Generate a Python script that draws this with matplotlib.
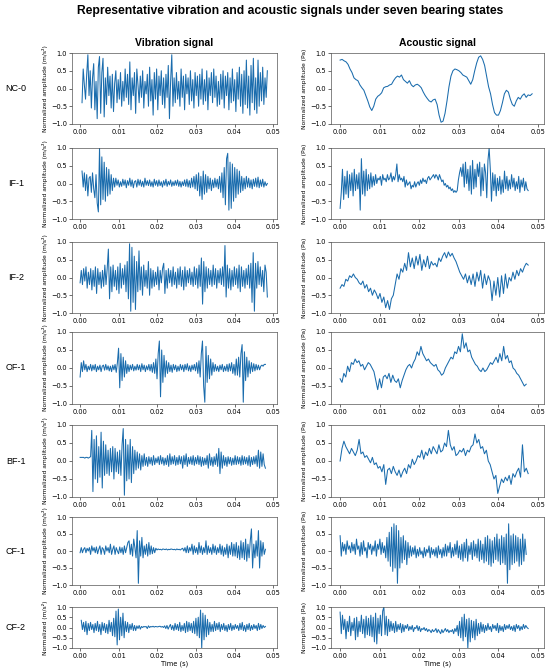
import numpy as np
import matplotlib.pyplot as plt

# bearing states (one row each)
states = ['NC-0', 'IF-1', 'IF-2', 'OF-1', 'BF-1', 'CF-1', 'CF-2']

# amplitudes, in hundredths of normalized amplitude
nc0_vib = [-40, 55, 10, -30, 40, 95, -20, 50, -55, 30, 70, -60, 20, -85, 60, 90, -70, 45, 85, -80,
           30, -45, 60, -20, 35, -55, 40, -65, 15, 50, -40, 25, -30, 45, -50, 20, -35, 55, -25, 40,
           -45, 75, -60, 30, -20, 45, -70, 55, 10, -40, 35, -25, 50, -55, 20, -15, 40, -50, 60, -35,
           25, -75, 45, -30, 55, -60, 35, -20, 50, -45, 30, -55, 40, -25, 65, -85, 20, 95, -50, 30,
           -40, 45, -30, 20, -50, 55, -25, 35, -60, 40, -15, 30, -45, 50, -35, 25, -55, 45, -20, 35,
           -50, 40, -30, 55, -45, 25, -35, 50, -60, 30, -20, 45, -40, 55, -25, 35, -50, 20, -45, 40,
           -30, 50, -55, 35, -20, 45, -60, 30, -40, 55, -35, 25, -65, 45, -30, 60, -50, 40, -70, 50,
           -45, 80, -55, 35, -75, 65, -40, 85, -60, 30, -70, 80, -50, 45, -35, 60, -45, 30, -25, 50]
nc0_ac = [80, 82, 78, 75, 68, 55, 45, 30, 25, 22, 10, 2, -5, -20, -35, -52, -62, -50, -30, -22,
          -18, -12, 2, 5, 6, 10, 12, 22, 30, 35, 32, 38, 25, 20, 15, 22, 10, 5, 10, 12,
          8, 2, -10, -20, -28, -35, -38, -32, -30, -45, -75, -95, -92, -70, -35, 5, 35, 50, 55, 53,
          50, 45, 38, 35, 32, 22, 12, 25, 50, 72, 88, 92, 82, 65, 35, 5, -15, -45, -68, -75,
          -75, -62, -40, -15, -5, -10, -30, -45, -50, -35, -25, -30, -20, -15, -25, -18, -20, -15]

if1_vib = [35, -10, 30, -20, 25, -35, 15, 20, -25, 30, -15, -40, 25, -55, -80, 100, -60, 75, -45, 60,
           -50, 45, -35, 40, -30, 25, -20, 15, -10, 15, -5, 10, -10, 5, -8, 12, -5, 10, -12, 8,
           -5, 15, -8, 10, -12, 5, 8, -10, 12, -5, 10, -8, 6, -10, 15, -5, 8, -6, 10, -8,
           5, -10, 12, -5, 8, -8, 10, -6, 5, -10, 8, -5, 12, -8, 6, -4, 10, -8, 5, -6,
           8, -5, 10, -8, 6, -10, 5, -6, 10, -8, 12, -10, 8, -12, 15, -10, 20, -15, 25, -20,
           30, -35, 20, -45, 35, -30, 25, -25, 20, -15, 15, -20, 10, -12, 15, -10, 12, -15, 20, -25,
           30, -40, 45, -60, 70, 85, -75, 60, -70, 55, -50, 45, -40, 40, -30, 35, -25, 20, -20, 15,
           -15, 20, -10, 15, -12, 10, -15, 12, -8, 15, -10, 18, -12, 10, -8, 12, -10, 5, -6, 0]
if1_ac = [-70, -25, 40, -45, 20, -30, 35, -40, 25, -20, 30, -35, 40, -20, 25, -15, 30, -75, 70, -30,
          35, -35, 40, -20, 25, -15, 30, -10, 20, -5, 25, 0, 15, 10, 20, -5, 25, 10, 15, 5,
          25, 10, 15, 30, 5, 20, 10, 25, 55, 5, 25, 10, 15, 5, 20, -10, 10, -5, 0, 5,
          -15, -5, -10, 5, -10, 0, 5, -5, 10, 0, 15, 5, 10, 0, 15, 20, 10, 15, 20, 25,
          15, 25, 20, 10, 25, 15, 5, 10, -5, 0, -10, -5, -15, -10, -20, -15, -25, -20, -25, -20,
          10, 30, 45, 20, 55, -10, 60, 0, 40, -20, 50, -30, 65, -15, 40, -10, 55, 20, 60, -35,
          45, -20, 55, 30, -40, 65, 100, 40, -50, 30, -20, 25, -35, 15, -20, 20, -30, 10, -25, 35,
          -15, 20, -20, 10, -15, 25, -10, 15, -20, 5, -15, 20, -25, 10, -10, 15, -20, 5, -15, -20]

if2_vib = [-15, 20, -20, 25, -10, 30, -30, 15, -20, 25, -35, 20, -25, 30, -45, 25, -20, 15, -30, 20,
           -25, 35, -20, 25, 80, -60, 30, -40, 35, -25, 20, -35, 30, -45, 40, -30, 25, -20, 35, -40,
           45, -60, 95, -95, 85, -70, 60, -90, 45, -40, 75, -35, 30, -50, 35, -25, 20, -30, 45, -50,
           25, -30, 20, -25, 15, -20, 30, -35, 20, -15, 25, 40, -45, 20, -30, 25, -15, 20, -25, 30,
           -20, 15, -30, 25, -20, 30, -25, 20, -35, 30, -25, 20, -15, 25, -20, 15, -25, 30, -20, 25,
           -30, 35, -25, 55, -75, 45, -40, 30, -30, 25, -20, 20, -25, 35, -20, 25, -30, 20, -15, 25,
           -20, 30, -25, 90, -55, 35, -30, 25, -35, 20, -25, 30, -20, 25, -30, 35, -40, 30, -25, 20,
           -30, 25, -20, 35, -30, 40, -70, 70, -95, 40, -30, 45, -20, 30, -25, 20, -40, 35, 15, -55]
if2_ac = [-30, -20, -25, -5, -10, 5, 0, 10, 0, -5, -15, -20, -10, -30, -20, -40, -30, -50, -35, -45,
          -60, -45, -70, -55, -85, -65, -90, -60, -50, -20, 10, -5, 25, 15, 40, 20, 70, 30, 55, 25,
          60, 35, 65, 20, 50, 30, 60, 25, 45, 35, 40, 30, 55, 45, 60, 70, 55, 72, 60, 68,
          55, 45, 30, 15, 5, -5, 10, -15, 5, -20, 10, -25, 15, -10, 20, -30, 10, -20, 5, -10,
          -65, -10, -50, 0, -55, 5, -45, 10, -30, 0, -10, 15, -5, 20, 5, 25, 15, 30, 40, 35]

of1_vib = [-25, 15, -10, 20, -5, 10, -10, 5, -5, 10, -8, 8, -5, 10, -10, 5, -5, 8, -10, 5,
           8, -6, 10, -5, 6, -8, 5, -10, 8, -5, 10, -12, 15, 55, -55, 40, -35, 30, -25, 20,
           -15, 10, -10, 8, -5, 10, -8, 5, -6, 10, -5, 8, -10, 12, -5, 8, -10, 6, -5, 10,
           -8, 10, -12, 15, -15, 25, -30, 40, 75, -80, 50, -40, 35, -25, 20, -15, 15, -10, 8, -12,
           10, -5, 8, -10, 5, -8, 10, -5, 8, -10, 10, -5, 12, -8, 6, -10, 8, -5, 10, -8,
           15, -15, 20, -25, 40, 75, -50, -95, 60, -40, 35, -30, 25, -20, 15, -10, 10, -8, 5, -10,
           8, -5, 10, -10, 5, -8, 10, -10, 12, -8, 15, -15, 10, -20, 25, -20, 30, -25, 40, 65,
           -95, 45, -35, 30, -25, 20, -15, 15, -10, 12, -8, 10, -5, 8, -5, 5, 8, 5, 10, 10]
of1_ac = [-30, -40, -15, -25, 5, -10, 15, 10, 25, 15, 20, 5, 10, -5, 5, 15, 10, 0, -10, -35,
          -60, -30, -55, -25, -20, -30, -15, -40, -20, -35, -40, -30, -55, -35, -20, -5, 5, 10, 0, 15,
          25, 45, 35, 60, 40, 30, 20, 25, 15, 10, 5, 10, -5, -10, -20, -15, 0, 10, 20, 30,
          25, 45, 40, 60, 45, 95, 55, 70, 45, 50, 30, 20, 10, 5, -5, -10, 0, -10, -5, 5,
          15, 10, 20, 30, 15, 40, 20, 60, 25, 35, 15, 20, 0, -5, -15, -20, -30, -40, -50, -45]

bf1_vib = [10, 10, 10, 10, 8, 10, 10, 8, 10, 12, 85, -85, 60, -50, 70, -60, 40, -45, 80, -75,
           55, -40, 45, -35, 30, -40, 35, -30, 40, -50, 35, -30, 25, -35, 30, -40, 45, 90, -95, 60,
           -55, 45, -50, 60, -60, 40, -35, 30, -25, 25, -20, 20, -25, 15, -15, 20, -12, 10, -15, 12,
           -8, 10, -12, 15, -10, 8, -5, 12, -10, 15, -8, 10, -12, 8, -10, 15, -15, 20, -10, 12,
           -8, 15, -12, 10, -10, 15, -8, 12, -20, 15, -10, 20, -15, 10, -8, 12, -10, 15, -12, 10,
           -8, 15, -10, 12, -15, 10, -12, 8, -10, 15, -20, 20, -12, 10, -15, 12, -10, 20, -15, 35,
           -35, 25, -20, 15, -12, 10, -15, 12, -8, 10, -12, 8, -10, 15, -10, 12, -8, 10, -12, 15,
           -10, 12, -8, 10, -12, 15, -15, 10, -10, 12, -8, 15, -15, 30, -20, 25, -15, 20, -10, -20]
bf1_ac = [0, 35, 55, 40, 30, 20, 35, 25, 15, 30, 60, 20, 25, 10, 15, 5, -5, 10, -10, -5,
          -20, -15, -30, -10, -65, -25, -20, -35, -15, -30, -40, -25, -45, -30, -20, -35, -10, -20, 5, -10,
          0, 15, 10, 30, 5, 25, 15, 35, 20, 40, 30, 20, 45, 25, 30, 50, 40, 85, 45, 30,
          40, 15, 20, 30, 25, 35, 15, 30, 25, 40, 45, 75, 50, 60, 35, 40, 20, 30, 0, -10,
          -30, -50, -40, -90, -70, -50, -60, -45, -55, -40, -65, -35, -45, -30, -20, -45, 45, -30, -20, -35]

cf1_vib = [-5, 10, -5, 5, 10, -5, 8, 0, 10, -10, 15, 0, 10, -5, 12, -8, 5, 15, -10, 10,
           5, -10, 15, 0, 10, -5, 20, -10, 5, 15, -10, 10, 0, -8, 12, -5, 10, -10, 15, -5,
           10, 25, 30, -10, 20, -15, 35, 10, -20, 60, -95, 30, -15, 40, -20, 15, -10, 20, -15, 25,
           -10, 15, -8, 10, -5, 8, 3, 6, 4, 5, 3, 6, 5, 4, 6, 3, 5, 4, 6, 5,
           4, 5, 3, 6, 4, 5, 3, 6, 8, 0, 10, -5, 15, -5, 10, 0, 20, -10, 15, -5,
           10, -10, 25, -5, 15, -10, 10, -5, 30, -10, 15, -5, 10, -10, 20, -5, 15, -10, 10, -5,
           20, -10, 15, -15, 10, -10, 20, -20, 15, -10, 25, -15, 20, -15, 25, -20, 15, -25, 30, -20,
           25, -25, 35, -30, 20, -20, 30, 65, -50, 20, -20, 30, -15, 60, -50, 30, -15, 25, -10, 5]
cf1_ac = [45, -15, 25, 0, 20, -10, 30, 5, 15, -5, 25, 0, 20, -10, 35, 5, 15, -15, 25, -10,
          30, 0, 10, -20, 25, 5, 20, -10, 15, 0, 30, -15, 20, 5, 35, -10, 25, -5, 15, -20,
          40, -30, 55, -45, 70, -60, 80, -50, 75, -95, 60, -50, 40, -35, 45, -25, 30, -40, 25, -20,
          15, -15, 10, -10, 15, -20, 5, -15, 10, -10, 0, -20, 10, -15, 5, -5, 15, -20, 10, -10,
          5, -15, 10, -20, 15, -10, 5, -20, 10, -15, 20, -15, 15, -5, 25, -20, 10, -15, 20, -10,
          30, -20, 15, -25, 20, -30, 25, -20, 35, -30, 15, -10, 25, -25, 30, -15, 20, -20, 35, -30,
          30, -25, 20, -35, 40, -30, 45, -40, 35, -45, 30, -35, 40, -25, 50, -30, 35, -40, 45, -35,
          40, -40, 50, -95, 80, -55, 45, -40, 50, -35, 45, -30, 40, -45, 35, -40, 50, -30, 35, -10]

cf2_vib = [35, -10, 25, -20, 30, -35, 20, -15, 25, -10, 15, -25, 20, -15, 30, -20, 15, -35, 25, -15,
           20, -25, 15, -30, 35, -20, 25, -40, 45, -45, 80, -85, 90, -60, 50, -40, 70, -50, 30, -20,
           25, -25, 15, -10, 20, -15, 10, -15, 8, -5, 10, -8, 5, 0, 5, 3, 5, -5, 8, 0,
           5, 3, 6, 2, 5, 4, 3, 5, 6, 2, 5, 0, 8, -5, 10, -8, 5, 15, -10, 10,
           -15, 20, -10, 15, -15, 25, -20, 10, -15, 20, -25, 30, -20, 25, -15, 20, -25, 30, -30, 45,
           -40, 50, -50, 85, -100, 70, -60, 60, -45, 40, -35, 25, -20, 15, -20, 30, -15, 20, -10, 25,
           -20, 15, -10, 20, -15, 10, -20, 15, -10, 20, -15, 10, -10, 15, -5, 10, -15, 20, -10, 25,
           -15, 10, -20, 15, -10, 20, -15, 10, -10, 15, -5, 10, -15, 20, -10, 15, -5, 10, 0, 5]
cf2_ac = [75, -30, 60, -10, 40, -55, 30, -20, 55, -40, 25, -15, 45, -60, 50, -45, 30, -20, 60, -30,
          40, -50, 55, -35, 45, -40, 60, -45, 50, -70, 70, -80, 45, -30, 60, -40, 80, 100, -35, 55,
          -40, 40, -20, 30, -15, 20, -25, 30, -20, 15, -10, 20, -25, 15, -20, 10, -5, 15, -15, 5,
          -10, 10, -20, 0, -5, 10, -15, 5, -20, -5, -10, 0, -15, -5, -20, -10, -15, -25, -10, -20,
          -15, -5, -25, -10, -20, -30, -10, -25, -15, -5, -20, -10, -25, -15, -20, -10, -30, -5, -20, 10,
          -40, 30, -50, 50, -65, 65, -45, 40, -100, 45, -70, 35, -50, 30, -60, 40, -40, 20, -30, 25,
          -20, 15, -25, 10, -15, 20, -10, 5, -20, 15, -5, 10, -15, 20, -25, 10, -15, 5, -20, 15,
          -10, 10, -5, 15, -10, 5, -15, 10, -20, 15, -5, 10, -15, 5, -10, 15, -5, 10, 0, -5]

vib_signals = [nc0_vib, if1_vib, if2_vib, of1_vib, bf1_vib, cf1_vib, cf2_vib]
ac_signals = [nc0_ac, if1_ac, if2_ac, of1_ac, bf1_ac, cf1_ac, cf2_ac]

# record start / end time (s) of each trace
vib_t0 = [0.0005, 0.0005, 0.0, 0.0, 0.0, 0.0, 0.0003]
vib_t1 = [0.0485, 0.0485, 0.0485, 0.048, 0.048, 0.048, 0.048]
ac_t0 = [0.0, 0.0, 0.0, 0.0, 0.0, 0.0, 0.0]
ac_t1 = [0.0485, 0.0475, 0.0475, 0.047, 0.0475, 0.047, 0.0475]

yticks = [-1.0, -0.5, 0.0, 0.5, 1.0]
xticks = [0.00, 0.01, 0.02, 0.03, 0.04, 0.05]

W, H = 550, 668
fig = plt.figure(figsize=(5.5, 6.68), dpi=100)
fig.text(0.527, 0.983, 'Representative vibration and acoustic signals under seven bearing states',
         ha='center', va='center', fontsize=8.7, fontweight='bold', family='Liberation Sans')

row_top = [53, 148, 242, 332, 425, 517, 607]
row_h = [71, 71, 71, 72, 72, 68, 41]
col_x = [(72, 205), (331, 213)]
col_xlim = [(-0.0021, 0.051), (-0.0023, 0.0515)]
line_col = '#1a6cad'

for r, state in enumerate(states):
    for c in range(2):
        x0, w = col_x[c]
        ax = fig.add_axes([x0 / W, 1 - (row_top[r] + row_h[r]) / H, w / W, row_h[r] / H])
        if c == 0:
            sig, t0, t1 = vib_signals[r], vib_t0[r], vib_t1[r]
        else:
            sig, t0, t1 = ac_signals[r], ac_t0[r], ac_t1[r]
        y = np.array(sig) / 100.0
        t = np.linspace(t0, t1, len(y))
        ax.plot(t, y, color=line_col, lw=0.75)
        ax.set_ylim(-1.0, 1.0)
        ax.set_xlim(*col_xlim[c])
        ax.set_yticks(yticks)
        ax.set_xticks(xticks)
        ax.set_xticklabels(['%.2f' % v for v in xticks])
        ax.tick_params(labelsize=4.8, length=2, width=0.4, pad=1.5)
        for sp in ax.spines.values():
            sp.set_linewidth(0.5)
            sp.set_color('#555555')
        if r == len(states) - 1:
            ylab = 'Normalized (m/s²)' if c == 0 else 'Normplitude (Pa)'
            ax.set_xlabel('Time (s)', fontsize=4.8, labelpad=1.5)
        else:
            ylab = 'Normalized amplitude (m/s²)' if c == 0 else 'Normalized amplitude (Pa)'
        ax.set_ylabel(ylab, fontsize=4.3, labelpad=2)
        if r == 0:
            ax.set_title('Vibration signal' if c == 0 else 'Acoustic signal',
                         fontsize=7.5, fontweight='bold', family='Liberation Sans', pad=5)
    fig.text(16 / W, 1 - (row_top[r] + row_h[r] / 2) / H, state, ha='center', va='center',
             fontsize=6.5, family='Liberation Sans')

fig.savefig('out.png', dpi=100)
